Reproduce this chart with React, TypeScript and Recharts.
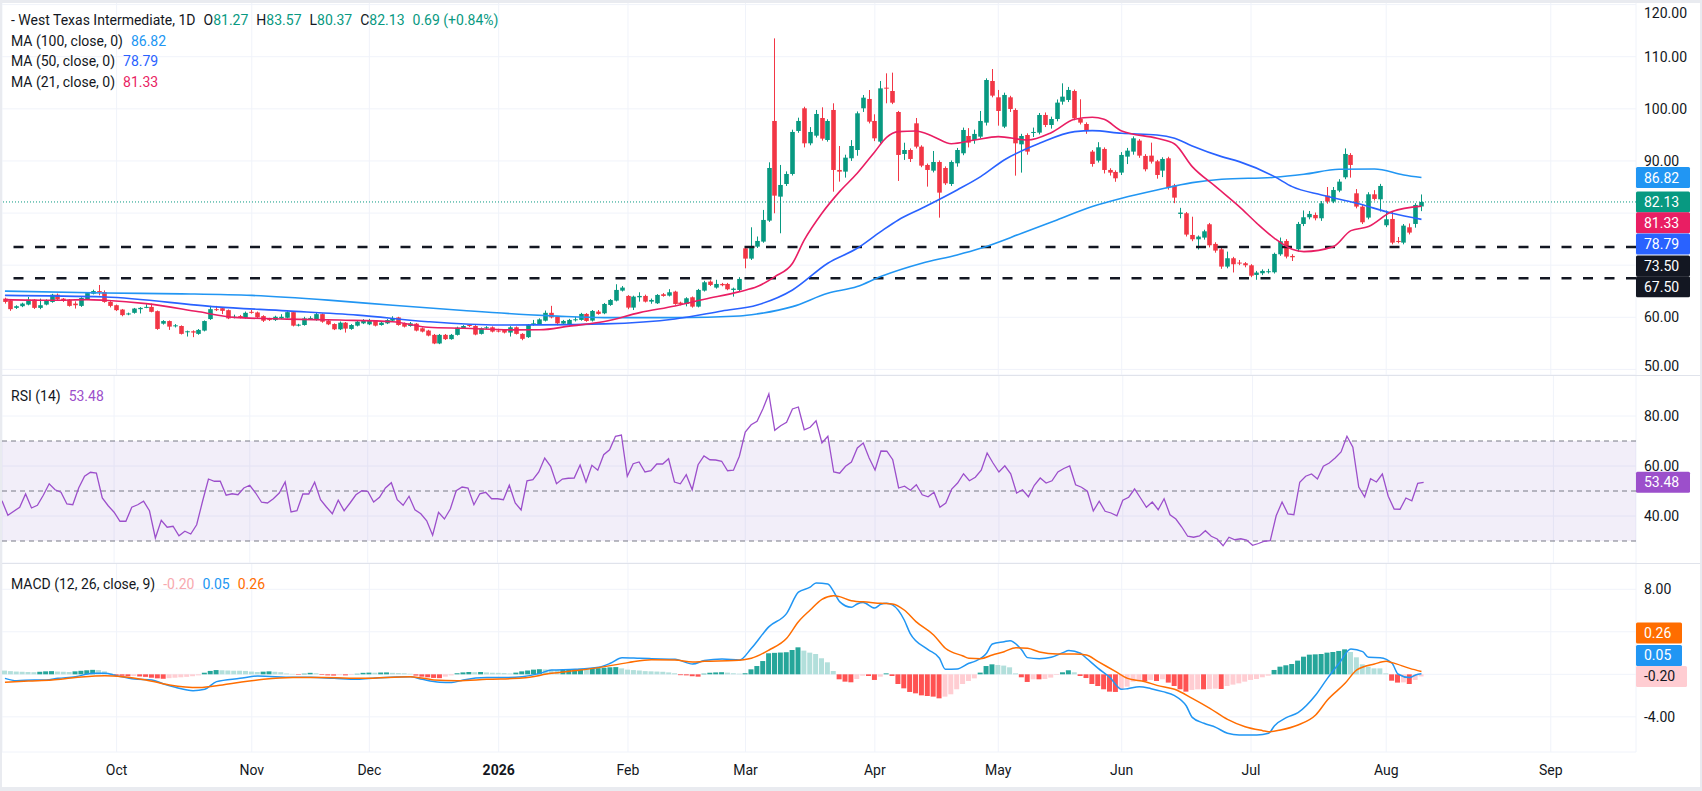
import React from 'react'
import {
  ComposedChart, Bar, Line, XAxis, YAxis, CartesianGrid, ReferenceLine, ReferenceArea, Cell,
} from 'recharts'

// ---- data ----
const opens = [
  63.58, 63.26, 61.81, 62.13, 62.44, 63.39, 61.81, 62.44, 62.95, 64.34,
  63.58, 63.39, 62.63, 62.19, 63.45, 64.53, 65.03, 64.84, 62.95, 62.32,
  61.49, 60.55, 60.86, 61.56, 61.87, 62.00, 61.18, 58.78, 59.28, 58.27,
  58.33, 57.13, 57.32, 56.82, 57.45, 59.66, 61.56, 61.75, 61.37, 59.98,
  60.23, 59.91, 61.05, 60.93, 60.23, 59.66, 59.47, 59.79, 59.91, 60.99,
  58.40, 58.52, 59.66, 59.47, 60.61, 59.35, 58.71, 57.70, 58.97, 57.77,
  58.40, 58.84, 58.65, 59.28, 58.52, 58.84, 59.35, 59.98, 58.84, 58.33,
  58.78, 57.89, 57.45, 56.63, 54.98, 56.63, 55.81, 56.63, 57.89, 58.52,
  58.33, 56.82, 57.89, 58.08, 57.45, 57.58, 57.07, 58.08, 56.82, 56.19,
  58.52, 58.71, 59.35, 60.86, 60.10, 58.79, 58.54, 59.43, 59.50, 60.65,
  59.37, 61.09, 60.77, 62.37, 63.20, 65.12, 64.10, 61.86, 63.84, 64.10,
  63.01, 62.69, 64.42, 64.16, 64.93, 62.82, 62.56, 63.84, 62.05, 65.12,
  66.85, 65.70, 66.40, 66.40, 65.25, 65.25, 73.24, 71.26, 73.56, 74.52,
  78.55, 97.67, 83.15, 85.58, 87.50, 95.75, 100.10, 93.38, 94.85, 98.24,
  94.02, 99.78, 88.27, 87.95, 90.51, 92.10, 100.10, 101.89, 97.67, 93.70,
  104.06, 103.42, 99.39, 91.34, 92.10, 97.22, 92.74, 89.23, 88.14, 89.80,
  88.65, 85.58, 89.55, 91.47, 94.79, 94.02, 94.66, 97.35, 105.34, 102.21,
  96.58, 102.21, 99.78, 93.19, 94.98, 95.43, 95.43, 98.82, 96.90, 98.05,
  101.38, 101.70, 103.42, 98.05, 97.09, 91.79, 90.06, 92.30, 88.27, 87.89,
  87.76, 90.83, 91.79, 93.90, 90.96, 91.02, 89.93, 88.14, 90.51, 85.27,
  79.83, 79.96, 75.80, 74.97, 75.29, 77.85, 74.08, 73.05, 69.73, 71.33,
  70.50, 70.37, 69.98, 68.13, 68.45, 68.71, 68.64, 72.09, 74.65, 71.77,
  73.05, 77.91, 79.19, 79.64, 79.00, 83.35, 82.20, 84.31, 86.86, 91.15,
  83.79, 81.24, 79.13, 83.60, 82.64, 77.66, 78.87, 74.65, 74.33, 77.27,
  77.91, 81.27,
]
const highs = [
  63.77, 63.40, 62.30, 62.80, 63.90, 63.50, 63.58, 63.45, 64.50, 64.55,
  63.70, 63.50, 63.07, 63.85, 64.84, 65.30, 66.20, 65.16, 63.10, 62.45,
  61.60, 60.90, 61.80, 61.95, 62.51, 62.63, 61.30, 59.45, 59.40, 58.70,
  58.45, 57.45, 57.50, 57.75, 59.40, 62.19, 62.19, 61.90, 61.50, 60.50,
  60.45, 61.10, 61.40, 61.10, 60.40, 59.90, 60.30, 60.60, 61.15, 61.10,
  58.75, 60.10, 60.20, 60.90, 60.75, 59.50, 58.85, 59.20, 59.10, 58.70,
  59.30, 59.65, 59.70, 59.45, 59.15, 59.65, 60.20, 60.10, 59.00, 59.10,
  58.90, 58.05, 57.60, 56.80, 56.80, 56.80, 56.80, 58.20, 58.50, 58.70,
  58.50, 58.05, 58.30, 58.25, 57.80, 57.75, 58.30, 58.25, 56.95, 58.70,
  59.50, 59.80, 61.30, 62.20, 60.25, 59.50, 59.70, 60.10, 60.85, 60.80,
  61.40, 61.40, 62.75, 63.50, 66.34, 66.00, 64.25, 64.15, 64.80, 64.35,
  63.60, 64.45, 64.65, 65.40, 65.10, 63.00, 63.85, 64.00, 65.45, 67.00,
  67.10, 67.20, 66.60, 66.60, 65.70, 67.70, 73.40, 77.27, 75.50, 80.60,
  89.74, 113.52, 89.23, 88.00, 96.00, 98.30, 100.40, 96.50, 99.78, 100.29,
  98.00, 101.06, 92.87, 91.20, 94.00, 99.50, 102.65, 103.61, 98.95, 105.34,
  106.81, 106.94, 99.60, 93.50, 92.40, 98.24, 93.00, 89.50, 91.91, 90.10,
  88.95, 90.10, 92.50, 96.40, 96.30, 96.00, 99.59, 105.85, 107.64, 103.62,
  103.10, 102.50, 100.10, 95.20, 95.30, 96.40, 99.20, 99.30, 98.50, 101.80,
  104.89, 104.20, 103.70, 101.83, 97.40, 92.10, 93.60, 92.60, 88.60, 88.20,
  91.70, 92.50, 94.70, 94.20, 91.30, 93.51, 90.20, 90.70, 90.80, 85.60,
  81.00, 80.20, 79.30, 75.70, 76.80, 78.10, 74.40, 73.30, 72.60, 71.60,
  71.00, 70.60, 70.20, 68.90, 69.20, 69.30, 72.40, 75.30, 75.00, 72.10,
  78.30, 80.50, 80.40, 80.10, 82.30, 85.00, 85.00, 86.50, 92.40, 91.50,
  84.60, 81.60, 84.00, 84.40, 85.60, 80.50, 80.30, 75.40, 77.90, 78.00,
  81.90, 83.57,
]
const lows = [
  62.63, 61.24, 61.60, 61.95, 62.30, 61.60, 61.56, 62.30, 62.80, 63.30,
  62.95, 62.05, 61.68, 62.00, 63.30, 64.40, 64.20, 62.80, 61.90, 61.20,
  60.20, 60.40, 60.70, 60.74, 61.75, 60.95, 57.60, 58.60, 57.58, 58.05,
  56.70, 56.31, 56.19, 56.65, 57.30, 59.50, 61.20, 60.61, 59.65, 59.80,
  59.80, 59.75, 60.70, 59.85, 59.10, 59.30, 59.30, 59.65, 59.80, 58.25,
  58.25, 58.40, 59.50, 59.35, 58.95, 58.50, 57.55, 57.55, 57.07, 57.60,
  58.25, 58.70, 58.50, 58.25, 58.40, 58.70, 59.20, 58.40, 58.05, 58.20,
  57.30, 57.10, 56.35, 54.85, 54.85, 55.65, 55.70, 56.50, 57.75, 58.15,
  56.55, 56.70, 57.75, 57.10, 57.10, 56.90, 56.31, 56.70, 55.60, 56.05,
  58.40, 58.55, 59.20, 59.80, 58.45, 58.60, 58.40, 59.20, 59.35, 59.15,
  59.20, 60.50, 60.60, 62.20, 63.05, 64.95, 61.55, 61.40, 63.00, 62.85,
  62.60, 62.55, 63.95, 64.00, 62.40, 62.30, 62.10, 61.85, 61.90, 64.95,
  66.00, 65.50, 65.95, 65.20, 63.97, 65.00, 69.40, 71.00, 73.30, 74.30,
  78.30, 79.96, 76.12, 85.20, 87.20, 95.40, 92.60, 93.00, 94.50, 93.90,
  93.70, 84.11, 86.03, 86.80, 90.00, 91.00, 99.40, 97.20, 93.80, 93.40,
  101.06, 100.90, 86.16, 90.20, 89.80, 92.40, 88.80, 85.07, 87.80, 79.12,
  85.40, 85.20, 88.90, 91.10, 92.60, 93.30, 94.30, 96.80, 102.20, 96.77,
  96.30, 99.40, 87.18, 87.76, 91.20, 94.60, 95.10, 96.50, 96.20, 97.60,
  100.80, 101.30, 97.80, 97.00, 95.20, 88.90, 89.70, 87.60, 87.20, 86.00,
  87.30, 89.40, 91.20, 90.60, 88.00, 89.50, 86.60, 86.90, 84.50, 81.90,
  79.00, 75.50, 74.60, 73.00, 74.90, 73.40, 72.40, 69.30, 69.40, 68.60,
  70.00, 69.60, 67.70, 67.20, 68.10, 68.40, 68.40, 71.80, 71.30, 70.80,
  72.60, 77.50, 78.80, 78.60, 78.50, 81.80, 81.90, 84.00, 86.50, 86.80,
  80.90, 77.90, 78.80, 82.40, 80.30, 77.30, 74.00, 74.20, 74.00, 75.90,
  77.20, 80.37,
]
const closes = [
  62.95, 61.56, 62.13, 62.63, 63.39, 61.81, 62.32, 63.26, 64.34, 63.45,
  63.14, 62.19, 62.32, 63.71, 64.65, 65.03, 64.84, 62.95, 62.19, 61.37,
  60.42, 60.74, 61.68, 61.81, 62.00, 61.05, 57.77, 59.28, 58.21, 58.46,
  56.82, 57.32, 57.07, 57.58, 59.28, 61.56, 61.37, 61.24, 59.79, 60.10,
  59.98, 60.86, 60.86, 59.98, 59.35, 59.47, 60.10, 60.10, 60.99, 58.40,
  58.59, 59.79, 59.85, 60.61, 59.16, 58.65, 57.70, 58.97, 57.83, 58.52,
  59.16, 59.47, 59.47, 58.40, 58.97, 59.47, 59.79, 58.52, 58.21, 58.84,
  57.45, 57.26, 56.50, 54.98, 56.63, 55.81, 56.63, 58.02, 58.33, 58.33,
  56.69, 57.89, 58.08, 57.26, 57.26, 57.07, 58.08, 56.82, 55.87, 58.52,
  58.84, 59.60, 60.86, 59.98, 58.84, 59.30, 59.50, 59.62, 60.65, 59.30,
  61.22, 60.65, 62.56, 63.33, 65.25, 65.70, 61.86, 63.97, 64.10, 63.01,
  63.33, 64.29, 64.10, 64.80, 62.56, 62.56, 63.65, 62.05, 65.25, 66.72,
  66.21, 66.40, 66.15, 65.38, 65.50, 67.36, 71.26, 73.56, 74.65, 78.68,
  88.65, 83.34, 85.39, 87.50, 95.56, 97.67, 93.38, 95.56, 99.01, 94.28,
  97.67, 88.27, 87.95, 90.63, 92.87, 99.14, 102.14, 97.54, 94.34, 103.93,
  103.87, 101.18, 91.15, 92.10, 90.38, 92.74, 89.10, 88.27, 89.80, 83.92,
  85.71, 89.80, 92.10, 95.94, 93.51, 95.18, 97.67, 105.53, 102.53, 99.59,
  102.66, 99.97, 93.38, 94.79, 91.79, 95.56, 98.82, 96.90, 98.05, 101.19,
  102.34, 103.62, 98.18, 97.35, 95.94, 89.42, 92.62, 88.27, 87.76, 86.67,
  91.15, 91.98, 94.34, 91.02, 88.40, 89.87, 87.31, 90.38, 84.95, 82.96,
  80.09, 75.87, 74.97, 75.48, 76.50, 73.82, 72.80, 69.73, 71.33, 70.18,
  70.37, 69.98, 67.99, 68.58, 68.90, 68.84, 72.16, 74.59, 71.65, 71.52,
  77.91, 79.19, 79.83, 79.00, 81.88, 82.20, 84.43, 86.03, 91.34, 89.23,
  81.24, 78.23, 83.60, 82.71, 85.20, 78.81, 74.33, 74.46, 77.59, 76.25,
  81.56, 82.13,
]

// moving averages, read at bar index -> value
const ma100 = [
  [0, 65.03], [17, 64.65], [30, 64.5], [42, 64.2], [55, 63.3], [66, 62.3], [78, 61.3], [89, 60.5],
  [94, 60.23], [102, 59.94], [114, 59.94], [125, 60.26], [128, 60.65], [134, 62.05], [140, 64.61],
  [145, 65.89], [149, 67.81], [156, 70.37], [162, 71.96], [166, 73.24], [173, 76.12], [179, 78.68],
  [185, 81.24], [190, 82.84], [196, 84.43], [202, 85.84], [207, 86.48], [216, 86.86], [221, 87.44],
  [227, 88.4], [233, 88.46], [238, 87.31], [241, 86.82],
]
const ma50 = [
  [0, 64.21], [17, 63.9], [36, 62.0], [48, 61.24], [60, 60.42], [72, 59.16], [84, 58.52], [91, 58.54],
  [102, 58.73], [114, 59.69], [122, 61.22], [128, 62.37], [134, 65.25], [140, 70.37], [145, 73.24],
  [149, 76.44], [152, 78.68], [156, 80.92], [162, 84.43], [166, 86.99], [170, 90.19], [176, 93.38],
  [182, 95.62], [185, 95.81], [190, 95.3], [196, 94.98], [199, 94.34], [202, 92.87], [207, 90.83],
  [210, 89.87], [216, 86.99], [219, 85.07], [224, 83.47], [230, 81.88], [236, 79.96], [241, 78.79],
]
const ma21 = [
  [0, 63.39], [8, 63.26], [14, 63.39], [17, 63.26], [24, 62.63], [33, 61.05], [39, 59.98], [48, 59.66],
  [57, 59.47], [66, 59.16], [72, 58.08], [78, 57.89], [87, 57.58], [91, 57.6], [96, 58.3], [102, 59.18],
  [108, 60.9], [114, 62.18], [119, 63.46], [125, 64.93], [128, 65.89], [131, 67.81], [134, 70.37],
  [136, 74.84], [139, 79.96], [142, 84.11], [145, 87.63], [148, 91.78], [150, 94.53], [152, 95.62],
  [155, 95.75], [158, 94.66], [161, 93.3], [165, 94.02], [169, 94.66], [174, 94.02], [178, 95.43],
  [182, 97.99], [185, 98.37], [187, 97.99], [190, 95.75], [196, 94.34], [199, 93.26], [202, 88.91],
  [206, 85.07], [210, 81.24], [213, 78.04], [216, 75.16], [219, 73.05], [221, 72.61], [226, 73.56],
  [229, 76.63], [232, 77.4], [236, 80.28], [241, 81.33],
]

const rsi = [
  [0, 46.1], [1, 40.3], [3, 43.5], [4, 48.8], [5, 43.2], [6, 44.3], [7, 48.3], [8, 52.9], [9, 50.5],
  [10, 49.5], [11, 44.8], [12, 44.5], [13, 51.2], [14, 55.9], [15, 57.5], [16, 57.2], [17, 47.2],
  [18, 44.1], [19, 41.5], [20, 37.9], [21, 37.9], [22, 43.5], [23, 44.5], [24, 45.9], [25, 42.1],
  [26, 31.2], [27, 38.3], [28, 35.5], [29, 35.9], [30, 32.1], [31, 33.9], [32, 32.8], [33, 36.5],
  [34, 45.9], [35, 54.8], [36, 53.9], [37, 53.9], [38, 48.3], [39, 48.9], [40, 48.5], [41, 51.2],
  [42, 52.3], [43, 49.2], [44, 45.5], [45, 45.2], [46, 46.9], [47, 49.2], [48, 53.6], [49, 41.6],
  [50, 42.1], [51, 48.8], [52, 48.8], [53, 53.5], [54, 46.5], [55, 43.6], [56, 40.9], [57, 46.3],
  [58, 42.1], [59, 45.2], [60, 48.5], [61, 50.1], [62, 49.9], [63, 45.6], [64, 47.5], [65, 51.2],
  [66, 53.3], [67, 46.5], [68, 44.3], [69, 47.9], [70, 42.5], [71, 40.9], [72, 38.1], [73, 32.3],
  [74, 41.5], [75, 38.8], [76, 42.8], [77, 50.1], [78, 51.6], [79, 51.2], [80, 44.5], [81, 48.9],
  [82, 49.5], [83, 46.9], [84, 46.9], [85, 46.5], [86, 52.3], [87, 45.2], [88, 42.4], [89, 54.1],
  [90, 54.5], [91, 57.6], [92, 63.2], [93, 59.9], [94, 52.9], [95, 54.8], [96, 55.1], [97, 55.2],
  [98, 60.4], [99, 53.6], [100, 60.3], [101, 58.3], [102, 64.5], [103, 66.5], [104, 71.9], [105, 72.4],
  [106, 55.9], [107, 60.9], [108, 61.6], [109, 57.6], [110, 58.1], [111, 60.8], [112, 60.8], [113, 62.9],
  [114, 53.6], [115, 52.9], [116, 56.5], [117, 50.5], [118, 60.5], [119, 64.0], [120, 62.5], [121, 62.4],
  [122, 61.9], [123, 58.1], [124, 58.3], [125, 63.9], [126, 73.6], [127, 76.5], [128, 77.9], [129, 82.9],
  [130, 88.8], [131, 74.3], [132, 76.1], [133, 77.5], [134, 82.8], [135, 83.6], [136, 74.5], [137, 75.5],
  [138, 78.1], [139, 69.2], [140, 71.9], [141, 57.6], [142, 57.1], [143, 59.9], [144, 61.6], [145, 67.2],
  [146, 69.2], [147, 63.2], [148, 58.4], [149, 66.0], [150, 65.9], [151, 62.5], [152, 51.2], [153, 51.9],
  [154, 50.3], [155, 52.5], [156, 48.5], [157, 47.7], [158, 49.5], [159, 43.5], [160, 45.2], [161, 50.8],
  [162, 53.2], [163, 56.9], [164, 54.1], [165, 55.5], [166, 58.3], [167, 65.2], [168, 61.2], [169, 57.6],
  [170, 60.1], [171, 56.9], [172, 49.2], [173, 50.5], [174, 47.7], [175, 52.3], [176, 55.2], [177, 53.2],
  [178, 54.1], [179, 57.6], [180, 59.0], [181, 60.0], [182, 52.5], [183, 51.5], [184, 49.9], [185, 42.0],
  [186, 45.9], [187, 41.9], [188, 41.2], [189, 40.1], [190, 46.3], [191, 47.5], [192, 50.8], [193, 47.2],
  [194, 43.5], [195, 45.6], [196, 42.5], [197, 46.9], [198, 40.5], [199, 38.8], [200, 35.6], [201, 31.9],
  [202, 31.5], [203, 32.0], [204, 34.1], [205, 31.9], [206, 30.8], [207, 28.1], [208, 31.5], [209, 30.5],
  [210, 30.9], [211, 30.4], [212, 28.3], [213, 29.0], [214, 29.9], [215, 30.1], [216, 40.1], [217, 45.6],
  [218, 40.8], [219, 40.5], [220, 53.5], [221, 55.9], [222, 56.8], [223, 54.8], [224, 59.9], [225, 61.2],
  [226, 63.2], [227, 65.6], [228, 71.9], [229, 67.5], [230, 51.6], [231, 47.6], [232, 54.9], [233, 53.6],
  [234, 56.8], [235, 47.9], [236, 42.8], [237, 42.7], [238, 47.2], [239, 46.1], [240, 53.1], [241, 53.48],
]

const macd = [
  [0, -0.38], [2, -0.6], [5, -0.53], [7, -0.53], [9, -0.38], [12, -0.22], [15, 0.09], [17, 0.09],
  [19, -0.13], [22, -0.44], [25, -0.53], [27, -0.91], [29, -1.22], [32, -1.54], [34, -1.41], [36, -0.69],
  [40, -0.38], [43, -0.16], [49, -0.28], [52, -0.28], [56, -0.38], [60, -0.47], [63, -0.35], [69, -0.22],
  [71, -0.47], [74, -0.75], [76, -0.78], [78, -0.53], [82, -0.31], [85, -0.31], [88, -0.22], [91, 0.09],
  [93, 0.41], [97, 0.47], [101, 0.66], [103, 1.04], [105, 1.57], [108, 1.51], [110, 1.47], [114, 1.41],
  [117, 0.97], [119, 1.29], [122, 1.44], [125, 1.35], [127, 2.45], [130, 4.49], [133, 5.74], [135, 7.73],
  [137, 8.2], [138, 8.6], [140, 8.5], [141, 7.78], [142, 6.84], [144, 6.31], [145, 6.62], [146, 6.75],
  [148, 6.24], [149, 6.59], [150, 6.68], [151, 6.53], [153, 5.11], [154, 3.86], [157, 2.35], [159, 1.51],
  [160, 0.47], [162, 0.5], [164, 1.04], [165, 1.22], [167, 1.98], [168, 2.85], [170, 3.07], [171, 3.17],
  [173, 2.29], [174, 1.57], [176, 1.47], [178, 1.6], [180, 2.04], [181, 2.23], [183, 1.98], [184, 1.51],
  [186, 0.56], [188, -0.31], [190, -1.41], [191, -1.35], [193, -1.16], [195, -1.35], [197, -1.63],
  [199, -2.01], [201, -2.98], [202, -4.05], [204, -4.61], [206, -4.99], [208, -5.55], [210, -5.71],
  [213, -5.71], [215, -5.55], [216, -4.83], [218, -4.08], [220, -3.61], [223, -1.95], [225, -0.38],
  [227, 1.04], [229, 2.38], [231, 2.13], [232, 1.6], [234, 1.57], [236, 1.04], [237, 0.03], [239, -0.31],
  [240, -0.06], [241, 0.05],
]
const signal = [
  [0, -0.75], [4, -0.63], [8, -0.53], [12, -0.31], [17, -0.13], [20, -0.22], [24, -0.53], [28, -1.0],
  [33, -1.25], [37, -1.0], [40, -0.75], [44, -0.47], [49, -0.31], [54, -0.31], [61, -0.38], [69, -0.22],
  [73, -0.53], [77, -0.6], [82, -0.47], [88, -0.35], [93, 0.09], [97, 0.35], [101, 0.63], [106, 1.1],
  [110, 1.38], [114, 1.35], [117, 1.16], [119, 1.22], [124, 1.29], [127, 1.51], [130, 2.29], [133, 3.39],
  [135, 4.95], [137, 6.05], [139, 7.06], [141, 7.4], [142, 7.31], [144, 6.93], [147, 6.78], [149, 6.68],
  [151, 6.62], [153, 6.05], [155, 4.96], [158, 3.7], [160, 2.45], [163, 1.73], [164, 1.51], [166, 1.47],
  [168, 1.82], [170, 2.13], [172, 2.51], [174, 2.45], [176, 2.1], [179, 1.91], [182, 1.91], [184, 1.82],
  [186, 1.19], [189, 0.25], [191, -0.38], [194, -0.69], [196, -1.04], [199, -1.41], [202, -2.26],
  [205, -3.2], [208, -4.24], [211, -4.93], [214, -5.3], [215, -5.4], [217, -5.24], [220, -4.77],
  [223, -3.83], [225, -2.42], [228, -0.85], [230, 0.41], [233, 0.97], [235, 1.22], [236, 1.1],
  [239, 0.56], [241, 0.26],
]
const hist = [
  0.35, 0.30, 0.26, 0.24, 0.22, 0.20, 0.24, 0.28, 0.30, 0.26,
  0.24, 0.22, 0.28, 0.33, 0.38, 0.42, 0.40, 0.28, 0.10, -0.10,
  -0.14, -0.18, -0.16, -0.20, -0.24, -0.32, -0.38, -0.42, -0.36, -0.32,
  -0.28, -0.24, -0.18, -0.10, 0.15, 0.32, 0.40, 0.38, 0.36, 0.34,
  0.34, 0.32, 0.26, 0.22, 0.25, 0.28, 0.24, 0.20, 0.08, 0.04,
  -0.05, 0.06, 0.14, 0.10, -0.06, -0.10, -0.12, -0.08, -0.10, -0.06,
  0.05, 0.14, 0.16, 0.15, 0.17, 0.18, 0.14, 0.12, 0.10, 0.05,
  -0.12, -0.22, -0.28, -0.34, -0.36, -0.22, -0.10, 0.10, 0.18, 0.22,
  0.20, 0.22, 0.18, 0.15, 0.14, 0.12, 0.08, 0.16, 0.28, 0.36,
  0.44, 0.48, 0.46, 0.44, 0.42, 0.44, 0.46, 0.50, 0.52, 0.50,
  0.56, 0.58, 0.62, 0.66, 0.68, 0.56, 0.44, 0.40, 0.36, 0.30,
  0.28, 0.26, 0.24, 0.18, 0.10, -0.08, -0.10, -0.18, -0.22, 0.06,
  0.15, 0.18, 0.20, 0.16, 0.10, 0.06, 0.10, 0.47, 0.78, 1.25,
  1.98, 2.02, 2.05, 2.08, 2.29, 2.54, 2.23, 2.04, 1.91, 1.51,
  1.13, 0.31, -0.47, -0.69, -0.75, -0.44, -0.13, -0.16, -0.53, -0.22,
  0.09, -0.16, -0.91, -1.32, -1.66, -1.79, -1.98, -2.04, -2.10, -2.26,
  -2.10, -1.88, -1.41, -0.91, -0.63, -0.38, 0.16, 0.78, 0.94, 0.88,
  0.82, 0.66, 0.09, -0.28, -0.72, -0.47, -0.47, -0.44, -0.31, -0.06,
  0.19, 0.38, 0.19, -0.16, -0.35, -0.91, -1.10, -1.41, -1.63, -1.66,
  -1.41, -1.16, -0.69, -0.53, -0.63, -0.53, -0.63, -0.47, -0.78, -1.10,
  -1.41, -1.63, -1.47, -1.41, -1.41, -1.38, -1.35, -1.38, -1.10, -0.97,
  -0.85, -0.69, -0.53, -0.44, -0.28, -0.13, 0.41, 0.72, 0.85, 0.97,
  1.29, 1.66, 1.85, 1.88, 1.91, 2.04, 2.10, 2.20, 2.35, 2.10,
  1.60, 0.94, 0.72, 0.56, 0.56, 0.09, -0.60, -0.78, -0.76, -0.91,
  -0.53, -0.20,
]

const monthTicks = [19, 42, 62, 84, 106, 126, 148, 169, 190, 212, 235, 263]
const monthLabels = ['Oct', 'Nov', 'Dec', '2026', 'Feb', 'Mar', 'Apr', 'May', 'Jun', 'Jul', 'Aug', 'Sep']

// ---- layout / style ----
const W = 1702
const SLOTS = 278
const AXIS_W = 66
const FONT = 'Roboto, "Noto Sans", sans-serif'
const TXT = '#131722'
const UP = '#089981'
const DOWN = '#F23645'
const GRID = '#f0f3fa'

const rows: any[] = Array.from({ length: SLOTS }, (_, i) => {
  const has = i < opens.length
  return {
    i,
    range: has ? [lows[i], highs[i]] : null,
    o: has ? opens[i] : null,
    h: has ? highs[i] : null,
    l: has ? lows[i] : null,
    c: has ? closes[i] : null,
    hist: has ? hist[i] : null,
    ma100: null, ma50: null, ma21: null, rsi: null, macd: null, signal: null,
  }
})
const put = (key: string, pts: number[][]) => pts.forEach(([i, v]) => { rows[i][key] = v })
put('ma100', ma100)
put('ma50', ma50)
put('ma21', ma21)
put('rsi', rsi)
put('macd', macd)
put('signal', signal)

const histColor = (i: number) => {
  const v = hist[i]
  const p = i > 0 ? hist[i - 1] : v
  if (v >= 0) return p < v ? '#26A69A' : '#B2DFDB'
  return p < v ? '#FFCDD2' : '#FF5252'
}

function Candle(props: any) {
  const { x, y, width, height, payload } = props
  if (!payload || payload.o == null) return null
  const { o, h, l, c } = payload
  const top = Math.min(y, y + height)
  const span = Math.abs(height)
  const k = h - l > 0 ? span / (h - l) : 0
  const yO = top + (h - o) * k
  const yC = top + (h - c) * k
  const color = c >= o ? UP : DOWN
  const cx = Math.round(x + width / 2) + 0.5
  const bTop = Math.min(yO, yC)
  const bH = Math.max(1, Math.abs(yO - yC))
  return (
    <g>
      <line x1={cx} x2={cx} y1={top} y2={top + span} stroke={color} strokeWidth={1} />
      <rect x={cx - 2.3} y={bTop} width={4.6} height={bH} fill={color} />
    </g>
  )
}

// nudge keeps edge labels (120 at the top, 50 at the bottom) inside their pane
function ValueTick(props: any) {
  const { x, y, payload, hidden, nudge } = props
  if (hidden && hidden.includes(payload.value)) return null
  const dy = nudge && nudge[payload.value] ? nudge[payload.value] : 0
  return (
    <text x={x + 8} y={y + dy} dominantBaseline="central" fill={TXT} fontSize={14} fontFamily={FONT}>
      {Number(payload.value).toFixed(2)}
    </text>
  )
}

function MonthTick(props: any) {
  const { x, y, payload } = props
  const label = monthLabels[monthTicks.indexOf(payload.value)]
  return (
    <text x={x} y={y + 18} textAnchor="middle" dominantBaseline="central" fill={TXT} fontSize={14}
      fontWeight={label === '2026' ? 700 : 400} fontFamily={FONT}>
      {label}
    </text>
  )
}

function Tag(props: any) {
  const { viewBox, text, bg, fg = '#fff', dy = 0, w = 54 } = props
  if (!viewBox) return null
  const x = viewBox.x + viewBox.width
  const y = viewBox.y + dy
  return (
    <g>
      <rect x={x} y={y - 10.5} width={w} height={21} fill={bg} rx={1.5} />
      <text x={x + 8} y={y} dominantBaseline="central" fill={fg} fontSize={14} fontFamily={FONT}>{text}</text>
    </g>
  )
}

const legendLine: React.CSSProperties = { height: 20.6, display: 'flex', alignItems: 'center', gap: 8, whiteSpace: 'nowrap' }

export default function App() {
  return (
    <div style={{ position: 'absolute', left: 0, top: 0, width: W, height: 791, background: '#fff', overflow: 'hidden', fontFamily: FONT }}>
      {/* price pane */}
      <div style={{ position: 'absolute', left: 0, top: 0 }}>
        <ComposedChart width={W} height={375} data={rows} margin={{ top: 0, right: 0, bottom: 0, left: 2 }}>
          <CartesianGrid stroke={GRID} />
          <XAxis dataKey="i" type="category" hide ticks={monthTicks} interval={0} />
          <YAxis orientation="right" width={AXIS_W} domain={[48.93, 120.88]} allowDataOverflow interval={0}
            ticks={[50, 60, 70, 80, 90, 100, 110, 120]} axisLine={false} tickLine={false} tickSize={0} tickMargin={0}
            tick={<ValueTick hidden={[70, 80]} nudge={{ 120: 8, 50: -3 }} />} />
          <ReferenceLine y={73.5} stroke="#131722" strokeWidth={2.5} strokeDasharray="10 11.5"
            label={<Tag text="73.50" bg="#131722" dy={19} />} />
          <ReferenceLine y={67.5} stroke="#131722" strokeWidth={2.5} strokeDasharray="10 11.5"
            label={<Tag text="67.50" bg="#131722" dy={8.6} />} />
          <ReferenceLine y={82.13} stroke={UP} strokeWidth={1} strokeDasharray="1 2"
            label={<Tag text="82.13" bg={UP} />} />
          <Bar dataKey="range" barSize={5} shape={<Candle />} isAnimationActive={false} />
          <Line dataKey="ma100" type="monotone" stroke="#2196F3" strokeWidth={1.6} dot={false} activeDot={false} connectNulls isAnimationActive={false} />
          <Line dataKey="ma50" type="monotone" stroke="#2962FF" strokeWidth={1.6} dot={false} activeDot={false} connectNulls isAnimationActive={false} />
          <Line dataKey="ma21" type="monotone" stroke="#E91E63" strokeWidth={1.6} dot={false} activeDot={false} connectNulls isAnimationActive={false} />
          <ReferenceLine y={86.82} stroke="none" label={<Tag text="86.82" bg="#2196F3" />} />
          <ReferenceLine y={81.33} stroke="none" label={<Tag text="81.33" bg="#E91E63" dy={16.7} />} />
          <ReferenceLine y={78.79} stroke="none" label={<Tag text="78.79" bg="#2962FF" dy={24.7} />} />
        </ComposedChart>
      </div>

      {/* RSI pane */}
      <div style={{ position: 'absolute', left: 0, top: 375 }}>
        <ComposedChart width={W} height={188} data={rows} margin={{ top: 0, right: 0, bottom: 0, left: 2 }}>
          <CartesianGrid stroke={GRID} />
          <XAxis dataKey="i" type="category" hide ticks={monthTicks} interval={0} />
          <YAxis orientation="right" width={AXIS_W} domain={[21.2, 96.4]} allowDataOverflow interval={0}
            ticks={[40, 60, 80]} axisLine={false} tickLine={false} tickSize={0} tickMargin={0}
            tick={<ValueTick />} />
          <ReferenceArea y1={30} y2={70} fill="#7E57C2" fillOpacity={0.1} stroke="none" />
          <ReferenceLine y={70} stroke="#787B86" strokeDasharray="5 4" />
          <ReferenceLine y={50} stroke="#787B86" strokeDasharray="5 4" />
          <ReferenceLine y={30} stroke="#787B86" strokeDasharray="5 4" />
          <Line dataKey="rsi" type="linear" stroke="#9C4FCB" strokeWidth={1.3} dot={false} activeDot={false} connectNulls isAnimationActive={false} />
          <ReferenceLine y={53.48} stroke="none" label={<Tag text="53.48" bg="#9C4FCB" />} />
        </ComposedChart>
      </div>

      {/* MACD pane + time axis */}
      <div style={{ position: 'absolute', left: 0, top: 563 }}>
        <ComposedChart width={W} height={224} data={rows} margin={{ top: 0, right: 0, bottom: 0, left: 2 }}>
          <CartesianGrid stroke={GRID} />
          <XAxis dataKey="i" type="category" ticks={monthTicks} interval={0} height={35}
            axisLine={false} tickLine={false} tickSize={0} tickMargin={0} tick={<MonthTick />} />
          <YAxis orientation="right" width={AXIS_W} domain={[-7.31, 10.475]} allowDataOverflow interval={0}
            ticks={[-4, 0, 4, 8]} axisLine={false} tickLine={false} tickSize={0} tickMargin={0}
            tick={<ValueTick hidden={[0, 4]} />} />
          <Bar dataKey="hist" barSize={5} isAnimationActive={false}>
            {rows.map((r, i) => (
              <Cell key={i} fill={r.hist == null ? 'transparent' : histColor(i)} />
            ))}
          </Bar>
          <Line dataKey="macd" type="monotone" stroke="#2196F3" strokeWidth={1.5} dot={false} activeDot={false} connectNulls isAnimationActive={false} />
          <Line dataKey="signal" type="monotone" stroke="#FF6D00" strokeWidth={1.5} dot={false} activeDot={false} connectNulls isAnimationActive={false} />
          <ReferenceLine y={0.26} stroke="none" label={<Tag text="0.26" bg="#FF6D00" dy={-38.5} w={46} />} />
          <ReferenceLine y={0.05} stroke="none" label={<Tag text="0.05" bg="#2196F3" dy={-18.3} w={46} />} />
          <ReferenceLine y={-0.2} stroke="none" label={<Tag text="-0.20" bg="#FFCDD2" fg={TXT} w={51} />} />
        </ComposedChart>
      </div>

      {/* pane separators */}
      <div style={{ position: 'absolute', left: 0, top: 375, width: W, height: 1, background: '#e0e3eb' }} />
      <div style={{ position: 'absolute', left: 0, top: 563, width: W, height: 1, background: '#e0e3eb' }} />

      {/* legends */}
      <div style={{ position: 'absolute', left: 11, top: 10, fontSize: 14, color: TXT }}>
        <div style={legendLine}>
          <span>- West Texas Intermediate, 1D</span>
          <span>O<span style={{ color: UP }}>81.27</span></span>
          <span>H<span style={{ color: UP }}>83.57</span></span>
          <span>L<span style={{ color: UP }}>80.37</span></span>
          <span>C<span style={{ color: UP }}>82.13</span></span>
          <span style={{ color: UP }}>0.69 (+0.84%)</span>
        </div>
        <div style={legendLine}><span>MA (100, close, 0)</span><span style={{ color: '#2196F3' }}>86.82</span></div>
        <div style={legendLine}><span>MA (50, close, 0)</span><span style={{ color: '#2962FF' }}>78.79</span></div>
        <div style={legendLine}><span>MA (21, close, 0)</span><span style={{ color: '#E91E63' }}>81.33</span></div>
      </div>
      <div style={{ position: 'absolute', left: 11, top: 386, fontSize: 14, color: TXT }}>
        <div style={legendLine}><span>RSI (14)</span><span style={{ color: '#9C4FCB' }}>53.48</span></div>
      </div>
      <div style={{ position: 'absolute', left: 11, top: 574, fontSize: 14, color: TXT }}>
        <div style={legendLine}>
          <span>MACD (12, 26, close, 9)</span>
          <span style={{ color: '#F7A9AF' }}>-0.20</span>
          <span style={{ color: '#2196F3' }}>0.05</span>
          <span style={{ color: '#FF6D00' }}>0.26</span>
        </div>
      </div>

      {/* outer frame */}
      <div style={{
        position: 'absolute', left: 0, top: 0, width: W, height: 791, boxSizing: 'border-box', pointerEvents: 'none',
        borderStyle: 'solid', borderColor: '#e9ebf0', borderWidth: '3px 2px 4px 2px',
      }} />
    </div>
  )
}
